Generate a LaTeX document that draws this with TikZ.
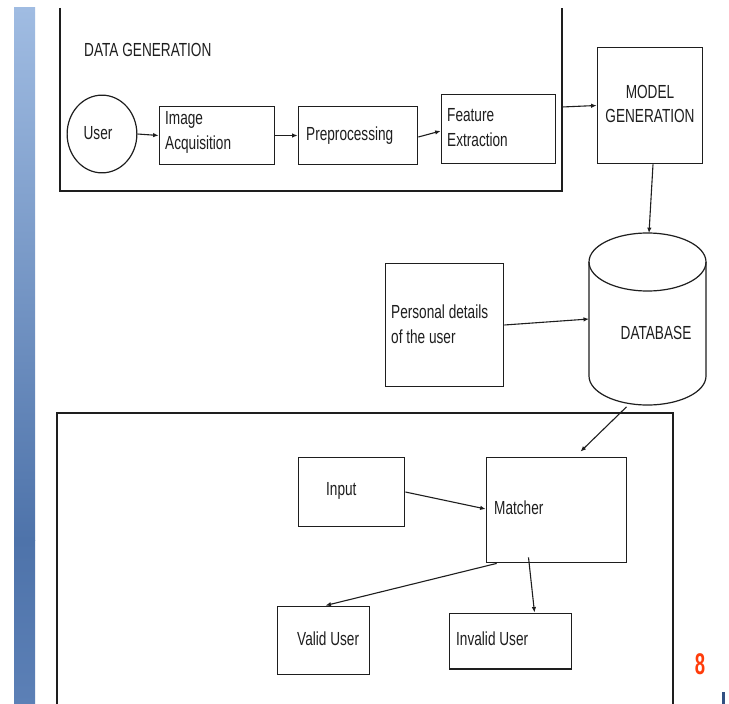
\documentclass[tikz,border=0pt]{standalone}
\usepackage{fontspec}
\setmainfont[FakeStretch=0.72]{Liberation Sans}
\newfontfamily\numfont[FakeStretch=0.62]{Liberation Sans}
\usetikzlibrary{arrows.meta,calc,shapes.geometric}
\definecolor{ln}{RGB}{30,30,30}
\definecolor{barA}{RGB}{160,188,226}
\definecolor{barB}{RGB}{78,115,170}
\definecolor{barC}{RGB}{92,128,182}
\definecolor{pgnum}{RGB}{255,60,10}
\definecolor{blmark}{RGB}{50,80,130}
\begin{document}
\begin{tikzpicture}[x=1bp,y=-1bp,
  box/.style={draw=ln, line width=1.2bp, rectangle, inner sep=0},
  lbl/.style={font=\fontsize{19}{25}\selectfont, inner sep=0, text=ln},
  arr/.style={-{Latex[length=5.5bp,width=4.5bp]}, line width=1.1bp, draw=ln}]
\useasboundingbox (0,0) rectangle (729,704);
\fill[white] (0,0) rectangle (729,704);
% side bar
\shade[top color=barA, bottom color=barB] (14,8) rectangle (35,540);
\shade[top color=barB, bottom color=barC] (14,540) rectangle (35,704);
% frames
\draw[ln, line width=1.2bp] (60,8) -- (60,191) -- (562,191) -- (562,8);
\draw[ln, line width=1.2bp] (57,704) -- (57,413) -- (673,413) -- (673,704);
\coordinate (dgr) at (562,107);
% data generation
\node[lbl, anchor=west] (dgt) at (84,50) {DATA GENERATION};
\node[draw=ln, line width=1.2bp, ellipse, minimum width=70, minimum height=78, inner sep=0] (user) at (102,134) {};
\node[lbl] (usert) at (98,133) {User};
\node[box, minimum width=116, minimum height=59] (ia) at (217,135.5) {};
\node[lbl, anchor=west, align=left] (iat) at (165,132) {Image\\Acquisition};
\node[box, minimum width=120, minimum height=59] (pre) at (358,135.5) {};
\node[lbl, anchor=west] (pret) at (306,136) {Preprocessing};
\node[box, minimum width=115, minimum height=70] (fe) at (498.5,129) {};
\node[lbl, anchor=west, align=left] (fet) at (447,128) {Feature\\Extraction};
% model
\node[box, minimum width=106, minimum height=117] (model) at (650,105.5) {};
\node[lbl, align=center] (modelt) at (650,104) {MODEL\\GENERATION};
% database
\node[minimum width=117, minimum height=172, inner sep=0] (db) at (647.5,319) {};
\draw[ln, line width=1.2bp] (647.5,262) ellipse[x radius=58.5, y radius=29];
\draw[ln, line width=1.2bp] (589,262) -- (589,376) arc[start angle=180, end angle=0, x radius=58.5, y radius=29] -- (706,262);
\node[lbl] (dbt) at (656,333) {DATABASE};
\node[box, minimum width=119, minimum height=124] (pers) at (444.5,325) {};
\node[lbl, anchor=west, align=left] (perst) at (391,324) {Personal details\\of the user};
% verification
\node[box, minimum width=107, minimum height=70] (input) at (351.5,492) {};
\node[lbl, anchor=west] (inputt) at (326,491) {Input};
\node[box, minimum width=141, minimum height=106] (matcher) at (556.5,510) {};
\node[lbl, anchor=west] (matchert) at (494,508) {Matcher};
\node[box, minimum width=93, minimum height=69] (valid) at (323.5,640.5) {};
\node[lbl, anchor=west] (validt) at (297,639) {Valid User};
\node[box, minimum width=123, minimum height=56] (invalid) at (510.5,641) {};
\node[lbl, anchor=west] (invalidt) at (456,639) {Invalid User};
% arrows
\draw[arr] (user.east) -- (ia.west);
\draw[arr] (ia.east) -- (pre.west);
\draw[arr] ($(pre.east)+(0,1.5)$) -- ($(fe.west)+(0,2)$);
\draw[arr] (dgr) -- (model.west);
\draw[arr] ($(model.south)+(3,0)$) -- ($(db.north)+(1.5,0)$);
\draw[arr] (pers.east) -- (db.west);
\draw[arr] ($(db.south)+(-21,2)$) -- ($(matcher.north)+(24,-5)$);
\draw[arr] (input.east) -- ($(matcher.west)+(0,-1)$);
\draw[arr] ($(matcher.south west)+(11,0)$) -- ($(valid.north)+(2,0)$);
\draw[arr] ($(matcher.south)+(-28,-6)$) -- ($(invalid.north)+(24,0)$);
% page number and mark
\node[font=\numfont\bfseries\fontsize{30}{30}\selectfont, text=pgnum, inner sep=0] (pg) at (700,664) {8};
\fill[blmark] (722,692) rectangle (725,704);
\end{tikzpicture}
\end{document}
